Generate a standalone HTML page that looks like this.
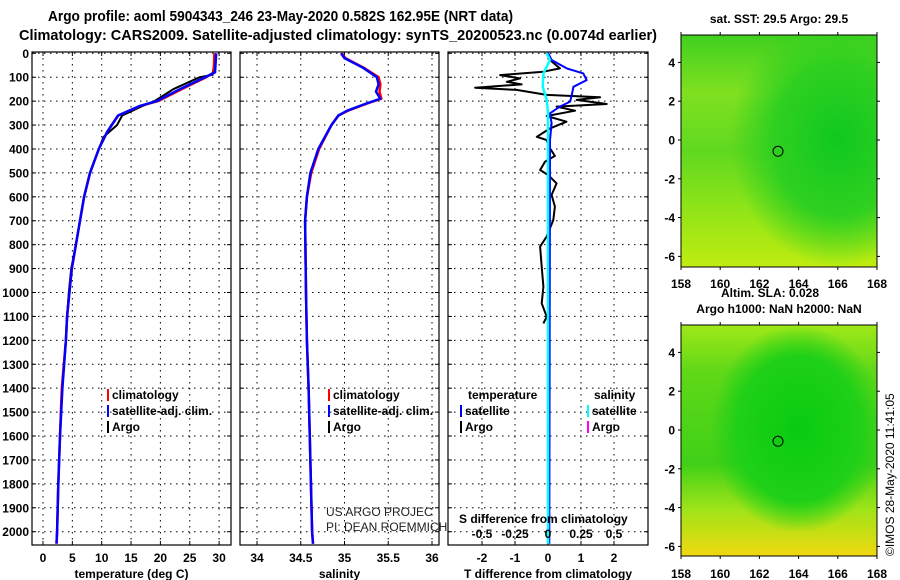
<!DOCTYPE html>
<html><head><meta charset="utf-8"><style>
html,body{margin:0;padding:0;background:#fff;}
svg{display:block;font-family:"Liberation Sans",sans-serif;}
.b{font-weight:bold;}
</style></head><body>
<svg id="c" width="900" height="580" viewBox="0 0 900 580" xmlns="http://www.w3.org/2000/svg">
<defs>
<radialGradient id="g1" cx="0.8" cy="0.45" r="0.55"><stop offset="0" stop-color="#10c820"/><stop offset="0.6" stop-color="#30d020"/><stop offset="1" stop-color="#30d020" stop-opacity="0"/></radialGradient>
<linearGradient id="l1" x1="0" y1="0" x2="0" y2="1"><stop offset="0" stop-color="#40d020"/><stop offset="0.25" stop-color="#80e020"/><stop offset="0.5" stop-color="#60d820"/><stop offset="0.75" stop-color="#90e418"/><stop offset="1" stop-color="#c0ec10"/></linearGradient>
<linearGradient id="l2" x1="0" y1="0" x2="0" y2="1"><stop offset="0" stop-color="#a0e818"/><stop offset="0.2" stop-color="#60d818"/><stop offset="0.6" stop-color="#40d018"/><stop offset="0.8" stop-color="#a0e418"/><stop offset="1" stop-color="#f0d810"/></linearGradient>
<radialGradient id="g2" cx="0.6" cy="0.45" r="0.45"><stop offset="0" stop-color="#08cc10"/><stop offset="0.7" stop-color="#20d018"/><stop offset="1" stop-color="#20d018" stop-opacity="0"/></radialGradient>
</defs>
<g id="root"></g>
</svg>
<script>
// ---- data ----
const depthTicks = [0,100,200,300,400,500,600,700,800,900,1000,1100,1200,1300,1400,1500,1600,1700,1800,1900,2000];
const tTicks = [0,5,10,15,20,25,30];
const sTicks = [34,34.5,35,35.5,36];
const dTTicks = [-2,-1,0,1,2];
const dSTicks = [-0.5,-0.25,0,0.25,0.5];
const climDepth = [0,80,100,150,200,220,260,330,400,500,600,700,800,900,1000,1100,1200,1400,1600,1800,2000,2050];
const climTemp  = [29.2,29.1,27.8,23.6,19.6,16.6,12.8,10.9,9.5,8.0,7.0,6.3,5.6,4.9,4.5,4.1,3.9,3.2,2.9,2.6,2.4,2.3];
const satTemp   = [29.5,29.3,27.6,23.3,19.4,16.5,12.8,10.9,9.5,8.0,7.0,6.3,5.6,4.9,4.5,4.1,3.9,3.3,2.9,2.6,2.4,2.3];
const argoDepth = [0,90,100,150,200,220,260,300,350,400,500,600,700,800,900,1000,1130];
const argoTemp  = [29.4,28.9,26.7,22.2,19.0,17.0,13.5,12.6,10.3,9.5,8.0,7.0,6.3,5.6,4.8,4.4,4.0];
const salDepth = [0,20,60,100,130,160,190,210,240,260,300,400,500,600,700,1000,1200,1400,2000,2050];
const climSal  = [34.97,35.01,35.22,35.39,35.41,35.40,35.42,35.26,35.04,34.93,34.85,34.71,34.62,34.57,34.55,34.56,34.57,34.59,34.63,34.64];
const satSal   = [34.96,35.0,35.21,35.37,35.39,35.36,35.41,35.25,35.03,34.93,34.85,34.70,34.61,34.57,34.55,34.56,34.57,34.59,34.63,34.64];
const dArgoDepth = [0,28,63,77,91,105,119,130,144,153,174,184,195,212,223,240,262,286,314,349,363,397,429,453,488,509,544,592,641,697,766,808,892,976,1045,1101,1129];
const dArgoT     = [-0.04,0.06,0.36,-0.14,-1.45,-0.85,-1.25,-0.8,-2.21,-0.95,-0.04,1.58,0.87,1.78,0.26,0.82,-0.04,0.56,0.06,-0.34,-0.04,0.06,0.21,-0.09,-0.24,0.01,0.26,0.11,0.21,0.16,-0.04,-0.24,-0.19,-0.14,-0.19,-0.04,-0.14];
const dSatDepth = [0,28,63,84,112,140,174,202,223,251,293,363,2050];
const dSatT     = [0.01,0.11,0.57,1.07,1.17,0.77,0.72,0.67,0.36,0.06,0.11,0.06,0.04];
const dSalDepth = [0,28,84,140,195,251,2050];
const dSatS     = [-0.01,0.015,-0.035,-0.04,-0.01,0.0,0.0];
const lonTicks = [158,160,162,164,166,168];
const latTicks = [4,2,0,-2,-4,-6];

const NS="http://www.w3.org/2000/svg";
const root=document.getElementById('root');
function el(tag,attrs,parent,txt){const e=document.createElementNS(NS,tag);for(const k in attrs)e.setAttribute(k,attrs[k]);if(txt!==undefined)e.textContent=txt;(parent||root).appendChild(e);return e;}
const yTop=53.3, yScale=0.2392;
const yD=d=>yTop+d*yScale;
const xT=t=>43+t*5.87;
const xS=s=>257+(s-34)*87.5;
const xDT=t=>548+t*33;
const xDS=s=>548+s*132;
const PT=52, PB=545;
function panel(x0,x1,name,ticks,xf,lab,title){
  const g=el('g',{});
  
  
  depthTicks.forEach(d=>{el('line',{x1:x0,x2:x1,y1:yD(d),y2:yD(d),stroke:'#000','stroke-width':1,'stroke-dasharray':'1.5 4.5'},g);
    el('line',{x1:x0,x2:x0+4,y1:yD(d),y2:yD(d),stroke:'#000'},g);el('line',{x1:x1-4,x2:x1,y1:yD(d),y2:yD(d),stroke:'#000'},g);});
  ticks.forEach(t=>{const x=xf(t);el('line',{x1:x,x2:x,y1:PT,y2:PB,stroke:'#000','stroke-dasharray':'1.5 4.5'},g);
    el('line',{x1:x,x2:x,y1:PT,y2:PT+4,stroke:'#000'},g);el('line',{x1:x,x2:x,y1:PB-4,y2:PB,stroke:'#000'},g);
    if(lab){const tl=el('text',{x:x,y:562,'text-anchor':'middle','font-size':12,'class':'b'},g,String(t));
      
      }});
  el('rect',{x:x0,y:PT,width:x1-x0,height:PB-PT,fill:'none',stroke:'#000','stroke-width':1.2},g);
  const tt=el('text',{x:(x0+x1)/2,y:578,'text-anchor':'middle','font-size':12,'class':'b'},g,title);
  
  
  return g;
}
function line(g,xs,ds,xf,color,w,name){
  const p=xs.map((v,i)=>xf(v).toFixed(1)+','+yD(ds[i]).toFixed(1)).join(' ');
  const e=el('polyline',{points:p,fill:'none',stroke:color,'stroke-width':w,'stroke-linejoin':'round'},g);
  
  
}
// titles
let t1=el('text',{x:48,y:21,'font-size':15,'class':'b',textLength:465,lengthAdjust:'spacingAndGlyphs'},root,'Argo profile: aoml 5904343_246 23-May-2020 0.582S 162.95E (NRT data)');


let t2=el('text',{x:19,y:40,'font-size':15,'class':'b',textLength:638,lengthAdjust:'spacingAndGlyphs'},root,'Climatology: CARS2009. Satellite-adjusted climatology: synTS_20200523.nc (0.0074d earlier)');


// y labels
depthTicks.forEach(d=>{const e=el('text',{x:29,y:yD(d)+4.5,'text-anchor':'end','font-size':12,'class':'b'},root,String(d));
  
  });
// panel 1
const p1=panel(32,231,'temperature-panel',tTicks,xT,true,'temperature (deg C)');
line(p1,argoTemp,argoDepth,xT,'#000',2,'argo-temperature-line');
line(p1,climTemp,climDepth,xT,'#f00',2.5,'climatology-temperature-line');
line(p1,satTemp,climDepth,xT,'#00f',2.5,'satellite-temperature-line');
// panel 2
const p2=panel(240,439,'salinity-panel',sTicks,xS,true,'salinity');
line(p2,satSal,salDepth,xS,'#000',2,'argo-salinity-line');
line(p2,climSal,salDepth,xS,'#f00',2.5,'climatology-salinity-line');
line(p2,satSal,salDepth,xS,'#00f',2.5,'satellite-salinity-line');
// panel 3
const p3=panel(448,648,'difference-panel',dTTicks,xDT,true,'T difference from climatology');
line(p3,dArgoT,dArgoDepth,xDT,'#000',2,'argo-t-difference-line');
line(p3,dSatT,dSatDepth,xDT,'#00f',2,'satellite-t-difference-line');
line(p3,dSatS,dSalDepth,xDS,'#0ff',2.5,'satellite-s-difference-line');
dSTicks.forEach(s=>{const e=el('text',{x:xDS(s),y:538,'text-anchor':'middle','font-size':12,'class':'b'},p3,String(s));
  
  });
let st=el('text',{x:459,y:523,'font-size':12,'class':'b'},p3,'S difference from climatology');


// legends
function leg(x,y,color,txt){const g=el('g',{});
  
  
  el('rect',{x:x,y:y-10,width:2,height:12,fill:color},g);
  el('text',{x:x+5,y:y,'font-size':12,'class':'b'},g,txt);}
leg(107,399,'#f00','climatology');leg(107,415,'#00f','satellite-adj. clim.');leg(107,431,'#000','Argo');
leg(328,399,'#f00','climatology');leg(328,415,'#00f','satellite-adj. clim.');leg(328,431,'#000','Argo');
let lt=el('text',{x:468,y:399,'font-size':12,'class':'b'},root,'temperature');
let ls=el('text',{x:594,y:399,'font-size':12,'class':'b'},root,'salinity');
leg(460,415,'#00f','satellite');leg(460,431,'#000','Argo');leg(587,415,'#0ff','satellite');leg(587,431,'#f0f','Argo');
let c1=el('text',{x:326,y:516,'font-size':12,fill:'#222'},root,'US ARGO PROJEC');
let c2=el('text',{x:326,y:531,'font-size':12,fill:'#222'},root,'PI: DEAN ROEMMICH');
// maps
function map(y0,y1,fillBase,fillSpot,name,title,titleY,lonY){
  const g=el('g',{});
  
  
  el('rect',{x:681,y:y0,width:196,height:y1-y0,fill:'url(#'+fillBase+')'},g);
  el('rect',{x:681,y:y0,width:196,height:y1-y0,fill:'url(#'+fillSpot+')'},g);
  const lx=v=>681+(v-158)*19.6;
  const ly=v=>(y0+27.4)+(4-v)*19.4;
  el('circle',{cx:lx(162.95),cy:ly(-0.582),r:5,fill:'none',stroke:'#000'},g);
  el('rect',{x:681,y:y0,width:196,height:y1-y0,fill:'none',stroke:'#000'},g);
  lonTicks.forEach(v=>{el('line',{x1:lx(v),x2:lx(v),y1:y0-3,y2:y0,stroke:'#000'},g);el('line',{x1:lx(v),x2:lx(v),y1:y1,y2:y1+3,stroke:'#000'},g);
    const e=el('text',{x:lx(v),y:lonY,'text-anchor':'middle','font-size':12,'class':'b'},g,String(v));
    
    });
  latTicks.forEach(v=>{el('line',{x1:877,x2:880,y1:ly(v),y2:ly(v),stroke:'#000'},g);el('line',{x1:678,x2:681,y1:ly(v),y2:ly(v),stroke:'#000'},g);
    const e=el('text',{x:675,y:ly(v)+4.5,'text-anchor':'end','font-size':12,'class':'b'},g,String(v));
    
    });
  const tt=el('text',{x:779,y:titleY,'text-anchor':'middle','font-size':12,'class':'b'},g,title);
  
  
}
map(35,267,'l1','g1','sst-map','sat. SST: 29.5 Argo: 29.5',23,288);
let sla=el('text',{x:770,y:297,'text-anchor':'middle','font-size':12,'class':'b'},root,'Altim. SLA: 0.028');
map(325,556,'l2','g2','height-map','Argo h1000: NaN h2000: NaN',313,578);
let ts=el('text',{x:0,y:0,'font-size':12,transform:'translate(894,556) rotate(-90)'},root,'©IMOS 28-May-2020 11:41:05');


</script>
</body></html>
